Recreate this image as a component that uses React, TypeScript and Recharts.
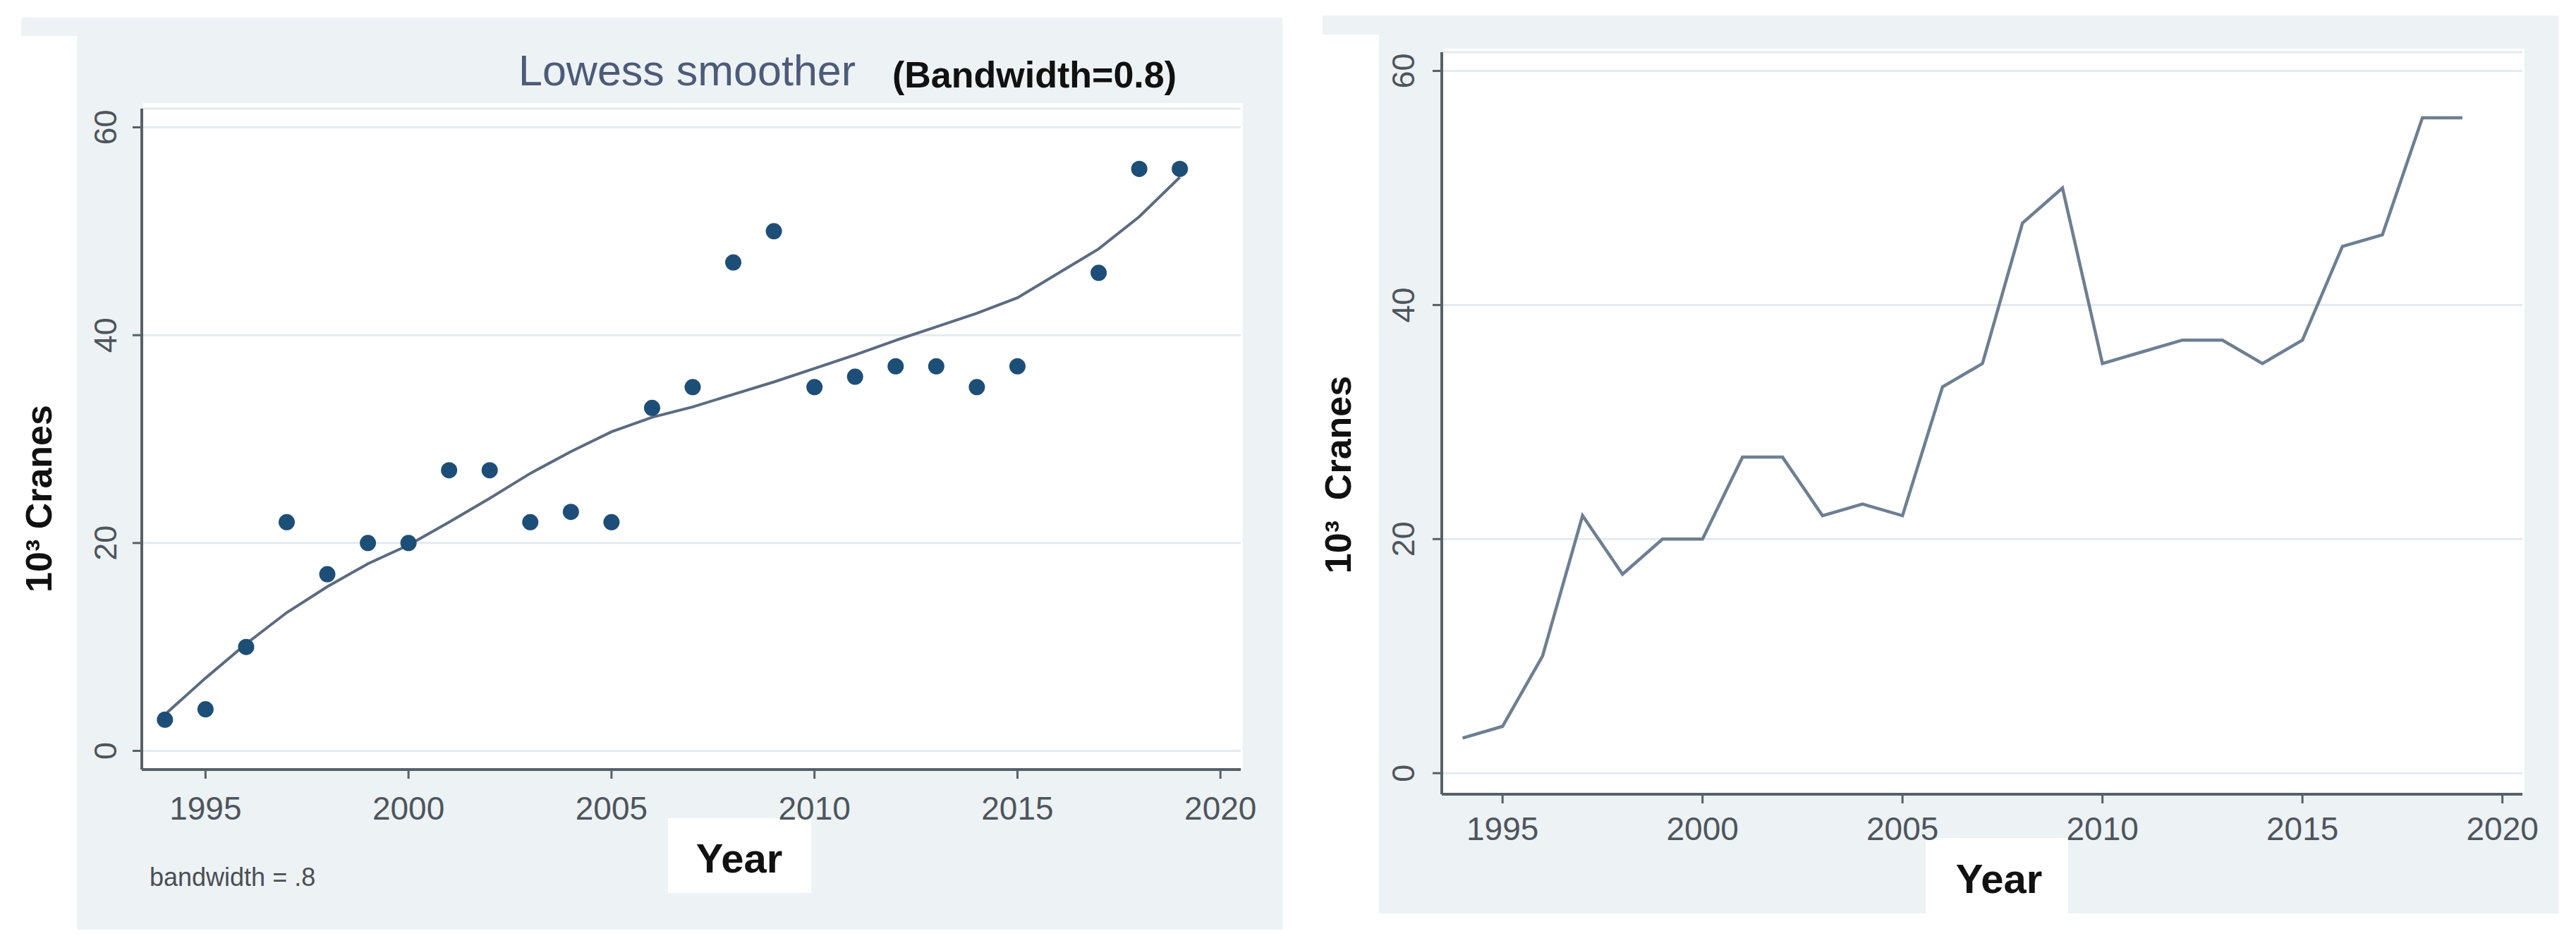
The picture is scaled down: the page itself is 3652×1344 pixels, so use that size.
import React from 'react';
import {
  ComposedChart,
  LineChart,
  Line,
  Scatter,
  CartesianGrid,
  XAxis,
  YAxis,
} from 'recharts';

// crane counts (thousands) per year
const years = [
  1994, 1995, 1996, 1997, 1998, 1999, 2000, 2001, 2002, 2003, 2004, 2005, 2006,
  2007, 2008, 2009, 2010, 2011, 2012, 2013, 2014, 2015, 2016, 2017, 2018, 2019,
];
const cranes = [
  3, 4, 10, 22, 17, 20, 20, 27, 27, 22, 23, 22, 33, 35, 47, 50, 35, 36, 37, 37, 35,
  37, 45, 46, 56, 56,
];
// the scatter panel has no point for 2016
const scatterCranes = [
  3, 4, 10, 22, 17, 20, 20, 27, 27, 22, 23, 22, 33, 35, 47, 50, 35, 36, 37, 37, 35,
  37, null, 46, 56, 56,
];
const lowessFit = [
  3.5, 7.0, 10.3, 13.3, 15.8, 18.0, 19.8, 22.0, 24.3, 26.7, 28.8, 30.7, 32.1, 33.1,
  34.3, 35.5, 36.8, 38.1, 39.5, 40.8, 42.1, 43.6, null, 48.3, 51.4, 55.2,
];
const xTicks = [1995, 2000, 2005, 2010, 2015, 2020];
const yTicks = [0, 20, 40, 60];

const leftData = years.map((year, i) => ({
  year,
  cranes: scatterCranes[i],
  lowess: lowessFit[i],
}));
const scatterData = leftData.filter((d) => d.cranes != null);
const rightData = years.map((year, i) => ({ year, cranes: cranes[i] }));

const FONT = '"Liberation Sans", Arial, sans-serif';
const PANEL_BG = '#edf2f5';
const AXIS = '#586068';
const TICK_TEXT = '#4e555c';

const abs = (left: number, top: number, width: number, height: number, bg: string) => ({
  position: 'absolute' as const,
  left,
  top,
  width,
  height,
  background: bg,
});

function rotatedLabel(text: string, cx: number, cy: number, style: React.CSSProperties) {
  return (
    <div
      style={{
        position: 'absolute',
        left: cx,
        top: cy,
        transform: 'translate(-50%, -50%) rotate(-90deg)',
        whiteSpace: 'pre',
        fontFamily: FONT,
        ...style,
      }}
    >
      {text}
    </div>
  );
}

function makeYTick(labelX: number) {
  return (props: any) => {
    const { y, payload } = props;
    return (
      <text
        x={labelX}
        y={y}
        transform={`rotate(-90 ${labelX} ${y})`}
        textAnchor="middle"
        dominantBaseline="central"
        fontFamily={FONT}
        fontSize={45}
        fill={TICK_TEXT}
      >
        {payload.value}
      </text>
    );
  };
}

function makeXTick(labelY: number) {
  return (props: any) => {
    const { x, payload } = props;
    return (
      <text
        x={x}
        y={labelY}
        textAnchor="middle"
        dominantBaseline="central"
        fontFamily={FONT}
        fontSize={46}
        fill={TICK_TEXT}
      >
        {payload.value}
      </text>
    );
  };
}

export default function App() {
  return (
    <div
      style={{
        position: 'absolute',
        left: 0,
        top: 0,
        width: 3652,
        height: 1344,
        background: '#ffffff',
        overflow: 'hidden',
      }}
    >
      {/* left panel background */}
      <div style={abs(30, 25, 1788, 26, PANEL_BG)} />
      <div style={abs(109, 45, 1709, 1273, PANEL_BG)} />
      <div style={abs(203, 146, 1559, 943, '#ffffff')} />
      <div style={abs(947, 1160, 203, 106, '#ffffff')} />

      {/* right panel background */}
      <div style={abs(1875, 22, 1752, 27, PANEL_BG)} />
      <div style={abs(1955, 45, 1672, 1250, PANEL_BG)} />
      <div style={abs(2046, 69, 1533, 1055, '#ffffff')} />
      <div style={abs(2730, 1188, 202, 107, '#ffffff')} />

      {/* left panel: scatter with lowess smoother */}
      <div style={{ position: 'absolute', left: 0, top: 0 }}>
        <ComposedChart
          width={1800}
          height={1344}
          data={leftData}
          margin={{ top: 154, right: 41, bottom: 153, left: 101 }}
        >
          <CartesianGrid vertical={false} stroke="#e5eaee" strokeWidth={3} />
          <XAxis
            type="number"
            dataKey="year"
            domain={[1993.43, 2020.5]}
            ticks={xTicks}
            allowDataOverflow
            height={100}
            axisLine={{ stroke: AXIS, strokeWidth: 4 }}
            tickLine={{ stroke: AXIS, strokeWidth: 3 }}
            tickSize={13}
            tick={makeXTick(1146)}
            interval={0}
          />
          <YAxis
            type="number"
            domain={[-1.8, 61.8]}
            ticks={yTicks}
            allowDataOverflow
            width={100}
            axisLine={{ stroke: AXIS, strokeWidth: 4 }}
            tickLine={{ stroke: AXIS, strokeWidth: 3 }}
            tickSize={13}
            tick={makeYTick(150)}
            interval={0}
          />
          <Line
            type="linear"
            dataKey="lowess"
            stroke="#5b6b80"
            strokeWidth={4}
            dot={false}
            connectNulls
            isAnimationActive={false}
          />
          <Scatter
            data={scatterData}
            dataKey="cranes"
            fill="#1d4e77"
            isAnimationActive={false}
            shape={(p: any) => <circle cx={p.cx} cy={p.cy} r={11.5} fill="#1d4e77" />}
          />
        </ComposedChart>
      </div>

      {/* right panel: connected line */}
      <div style={{ position: 'absolute', left: 1820, top: 0 }}>
        <LineChart
          width={1832}
          height={1344}
          data={rightData}
          margin={{ top: 74, right: 76, bottom: 118, left: 124 }}
        >
          <CartesianGrid vertical={false} stroke="#e5eaee" strokeWidth={3} />
          <XAxis
            type="number"
            dataKey="year"
            domain={[1993.48, 2020.5]}
            ticks={xTicks}
            allowDataOverflow
            height={100}
            axisLine={{ stroke: AXIS, strokeWidth: 4 }}
            tickLine={{ stroke: AXIS, strokeWidth: 3 }}
            tickSize={13}
            tick={makeXTick(1175)}
            interval={0}
          />
          <YAxis
            type="number"
            domain={[-1.8, 61.6]}
            ticks={yTicks}
            allowDataOverflow
            width={100}
            axisLine={{ stroke: AXIS, strokeWidth: 4 }}
            tickLine={{ stroke: AXIS, strokeWidth: 3 }}
            tickSize={13}
            tick={makeYTick(170)}
            interval={0}
          />
          <Line
            type="linear"
            dataKey="cranes"
            stroke="#6d7f92"
            strokeWidth={4.5}
            dot={false}
            isAnimationActive={false}
          />
        </LineChart>
      </div>

      {/* left panel texts */}
      <div
        style={{
          position: 'absolute',
          left: 735,
          top: 70,
          fontFamily: FONT,
          fontSize: 61,
          color: '#4d5b79',
          whiteSpace: 'nowrap',
          lineHeight: 1,
        }}
      >
        Lowess smoother
      </div>
      <div
        style={{
          position: 'absolute',
          left: 1265,
          top: 80,
          fontFamily: FONT,
          fontSize: 52,
          fontWeight: 'bold',
          color: '#111',
          whiteSpace: 'nowrap',
          lineHeight: 1,
        }}
      >
        (Bandwidth=0.8)
      </div>
      {rotatedLabel('10³ Cranes', 55, 707, { fontSize: 52, fontWeight: 'bold', color: '#111' })}
      <div
        style={{
          position: 'absolute',
          left: 1048,
          top: 1216,
          transform: 'translate(-50%, -50%)',
          fontFamily: FONT,
          fontSize: 58,
          fontWeight: 'bold',
          color: '#111',
        }}
      >
        Year
      </div>
      <div
        style={{
          position: 'absolute',
          left: 212,
          top: 1226,
          fontFamily: FONT,
          fontSize: 36,
          color: '#4a4f55',
          whiteSpace: 'nowrap',
          lineHeight: 1,
        }}
      >
        bandwidth = .8
      </div>

      {/* right panel texts */}
      {rotatedLabel('10³  Cranes', 1897, 673, { fontSize: 52, fontWeight: 'bold', color: '#111' })}
      <div
        style={{
          position: 'absolute',
          left: 2834,
          top: 1245,
          transform: 'translate(-50%, -50%)',
          fontFamily: FONT,
          fontSize: 58,
          fontWeight: 'bold',
          color: '#111',
        }}
      >
        Year
      </div>
    </div>
  );
}
